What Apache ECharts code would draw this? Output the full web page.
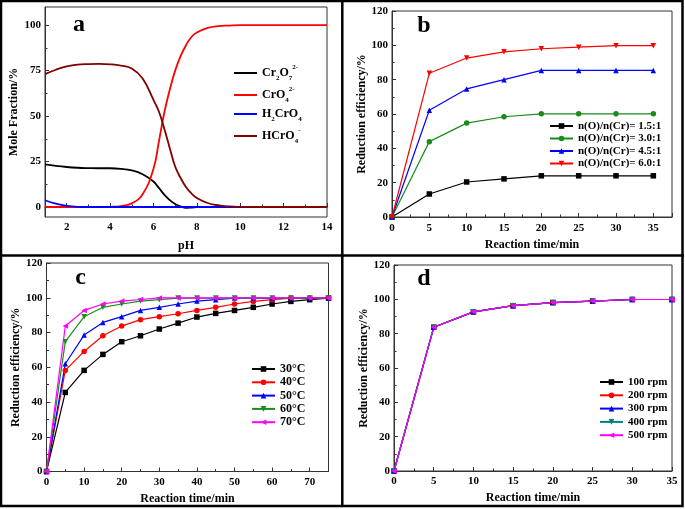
<!DOCTYPE html>
<html><head><meta charset="utf-8">
<script src="https://cdn.jsdelivr.net/npm/echarts@6/dist/echarts.min.js"></script>
<style>html,body{margin:0;padding:0;background:#fff}#c{width:685px;height:509px}</style>
</head><body><div id="c"></div>
<script>
// ---------- Panel a: species distribution vs pH ----------
const phValues = [1, 1.5, 2, 2.5, 3, 3.5, 4, 4.5, 5, 5.5, 6, 6.25, 6.5, 6.75, 7, 7.25, 7.5, 7.75, 8, 8.5, 9, 9.5, 10, 11, 12, 13, 14];
const cr2o7  = [23.4, 22.6, 22.0, 21.6, 21.4, 21.3, 21.3, 21.0, 20.1, 18.0, 14.0, 10.5, 6.8, 3.8, 1.6, 0.3, -0.4, -0.3, -0.1, 0, 0, 0, 0, 0, 0, 0, 0];
const cro4   = [0, 0, 0, 0, 0, 0, 0.1, 0.5, 2.0, 7.0, 21.0, 36.0, 52.0, 64.5, 75.0, 83.0, 89.0, 93.5, 96.0, 98.5, 99.5, 99.8, 100, 100, 100, 100, 100];
const h2cro4 = [3.7, 1.8, 0.6, 0.1, 0, 0, 0, 0, 0, 0, 0, 0, 0, 0, 0, 0, 0, 0, 0, 0, 0, 0, 0, 0, 0, 0, 0];
const hcro4  = [73.1, 75.5, 77.3, 78.3, 78.6, 78.7, 78.5, 77.8, 76.2, 70.7, 58.9, 52.5, 43.0, 32.5, 22.3, 16.0, 11.0, 7.5, 5.0, 2.2, 0.9, 0.3, 0.1, 0, 0, 0, 0];
const aXTicks = [2, 4, 6, 8, 10, 12, 14];
const aXMinor = [3, 5, 7, 9, 11, 13];
const aYTicks = [0, 25, 50, 75, 100];
const aYMinor = [12.5, 37.5, 62.5, 87.5];

// ---------- Panel b: effect of n(O)/n(Cr) ----------
const timeB = [0, 5, 10, 15, 20, 25, 30, 35];
const bRatio15 = [0, 13.4, 20.4, 22.2, 24.0, 24.0, 24.0, 24.0];
const bRatio30 = [0, 43.9, 54.7, 58.4, 60.1, 60.1, 60.1, 60.1];
const bRatio45 = [0, 62.2, 74.6, 80.0, 85.4, 85.4, 85.4, 85.4];
const bRatio60 = [0, 83.7, 92.6, 96.2, 98.0, 98.9, 99.8, 99.8];

// ---------- Panel c: effect of temperature ----------
const timeC = [0, 5, 10, 15, 20, 25, 30, 35, 40, 45, 50, 55, 60, 65, 70, 75];
const c30 = [0, 45.5, 58.2, 67.4, 74.7, 78.1, 82.0, 85.4, 88.9, 91.0, 92.7, 94.5, 96.4, 97.9, 98.9, 99.8];
const c40 = [0, 58.2, 69.1, 78.1, 83.7, 87.4, 89.1, 90.8, 92.7, 94.5, 96.4, 97.9, 98.9, 99.8, 99.8, 99.8];
const c50 = [0, 62.0, 78.5, 85.8, 89.1, 92.7, 94.5, 96.4, 98.1, 98.9, 99.8, 99.8, 99.8, 99.8, 99.8, 99.8];
const c60 = [0, 74.7, 89.1, 94.5, 96.4, 98.1, 98.9, 99.8, 99.8, 99.8, 99.8, 99.8, 99.8, 99.8, 99.8, 99.8];
const c70 = [0, 83.7, 92.7, 96.4, 98.1, 99.0, 99.9, 99.9, 99.9, 99.9, 99.9, 99.9, 99.9, 99.9, 99.9, 99.9];

// ---------- Panel d: effect of stirring speed ----------
const timeD = [0, 5, 10, 15, 20, 25, 30, 35];
const d100 = [0, 83.7, 92.7, 96.3, 98.1, 99.0, 99.9, 99.9];
const d200 = [0, 83.7, 92.7, 96.3, 98.1, 99.0, 99.9, 99.9];
const d300 = [0, 83.7, 92.7, 96.3, 98.1, 99.0, 99.9, 99.9];
const d400 = [0, 83.7, 92.7, 96.3, 98.1, 99.0, 99.9, 99.9];
const d500 = [0, 83.7, 92.7, 96.3, 98.1, 99.0, 99.9, 99.9];

const SERIF = '"Liberation Serif", "Times New Roman", serif';
const zip = (xs, ys) => xs.map((x, i) => [x, ys[i]]);

const labelStyle = {color: '#000', fontFamily: SERIF, fontWeight: 'bold', fontSize: 11};
const nameStyle = {color: '#000', fontFamily: SERIF, fontWeight: 'bold', fontSize: 12};
const axLine = {show: true, lineStyle: {color: '#333', width: 1}};
const tickStyle = {color: '#333', width: 1};

function mainAxis(o) {
  return Object.assign({
    type: 'value',
    axisLine: axLine,
    axisTick: {inside: true, length: 4, lineStyle: tickStyle},
    minorTick: {show: true, splitNumber: 2, length: 2.5, lineStyle: tickStyle},
    splitLine: {show: false},
    minorSplitLine: {show: false},
    axisLabel: Object.assign({margin: 5}, labelStyle),
    nameLocation: 'middle',
    nameTextStyle: nameStyle
  }, o);
}

const xAxes = [
  mainAxis({gridIndex: 0, min: 1, max: 14, name: 'pH', nameGap: 23,
    axisTick: {inside: true, length: 4, lineStyle: tickStyle, customValues: aXTicks},
    axisLabel: Object.assign({margin: 5, customValues: aXTicks}, labelStyle),
    minorTick: {show: false}}),
  mainAxis({gridIndex: 1, min: 0, max: 37.5, interval: 5, name: 'Reaction time/min', nameGap: 22,
    axisLabel: Object.assign({margin: 6, showMaxLabel: false}, labelStyle)}),
  mainAxis({gridIndex: 2, min: 0, max: 75, interval: 10, name: 'Reaction time/min', nameGap: 21,
    axisLabel: Object.assign({margin: 5, showMaxLabel: false}, labelStyle)}),
  mainAxis({gridIndex: 3, min: 0, max: 35, interval: 5, name: 'Reaction time/min', nameGap: 21}),
  {type: 'value', gridIndex: 0, position: 'bottom', min: 1, max: 14,
    axisLine: {show: false}, axisLabel: {show: false}, splitLine: {show: false},
    axisTick: {inside: true, length: 2.5, lineStyle: tickStyle, customValues: aXMinor}}
];
const yAxes = [
  mainAxis({gridIndex: 0, min: -5.5, max: 110, name: 'Mole Fraction/%', nameGap: 25,
    axisTick: {inside: true, length: 4, lineStyle: tickStyle, customValues: aYTicks},
    axisLabel: Object.assign({margin: 4, customValues: aYTicks}, labelStyle),
    minorTick: {show: false}}),
  mainAxis({gridIndex: 1, min: 0, max: 120, interval: 20, name: 'Reduction efficiency/%', nameGap: 22,
    axisLabel: Object.assign({margin: 4}, labelStyle)}),
  mainAxis({gridIndex: 2, min: 0, max: 120, interval: 20, name: 'Reduction efficiency/%', nameGap: 24,
    axisLabel: Object.assign({margin: 4}, labelStyle)}),
  mainAxis({gridIndex: 3, min: 0, max: 120, interval: 20, name: 'Reduction efficiency/%', nameGap: 23,
    axisLabel: Object.assign({margin: 4}, labelStyle)}),
  {type: 'value', gridIndex: 0, position: 'left', min: -5.5, max: 110,
    axisLine: {show: false}, axisLabel: {show: false}, splitLine: {show: false},
    axisTick: {inside: true, length: 2.5, lineStyle: tickStyle, customValues: aYMinor}}
];

function aLine(name, ys, color) {
  return {name, type: 'line', xAxisIndex: 0, yAxisIndex: 0, data: zip(phValues, ys),
    symbol: 'none', smooth: 0.45, color, lineStyle: {width: 1.8, color}, itemStyle: {color}};
}
function mLine(name, xi, xs, ys, color, symbol, rot) {
  return {name, type: 'line', xAxisIndex: xi, yAxisIndex: xi, data: zip(xs, ys),
    symbol, symbolRotate: rot || 0, symbolSize: 5.5, color, clip: false,
    lineStyle: {width: 1.2, color}, itemStyle: {color}};
}

const series = [
  aLine('Cr2O7', cr2o7, '#000000'),
  aLine('CrO4', cro4, '#ff0000'),
  aLine('H2CrO4', h2cro4, '#0000ff'),
  aLine('HCrO4', hcro4, '#800000'),
  mLine('n(O)/n(Cr)= 1.5:1', 1, timeB, bRatio15, '#000000', 'rect'),
  mLine('n(O)/n(Cr)= 3.0:1', 1, timeB, bRatio30, '#1a8c1a', 'circle'),
  mLine('n(O)/n(Cr)= 4.5:1', 1, timeB, bRatio45, '#0000ff', 'triangle'),
  mLine('n(O)/n(Cr)= 6.0:1', 1, timeB, bRatio60, '#ff0000', 'triangle', 180),
  mLine('30°C', 2, timeC, c30, '#000000', 'rect'),
  mLine('40°C', 2, timeC, c40, '#ff0000', 'circle'),
  mLine('50°C', 2, timeC, c50, '#0000ff', 'triangle'),
  mLine('60°C', 2, timeC, c60, '#1a8c1a', 'triangle', 180),
  mLine('70°C', 2, timeC, c70, '#ff00ff', 'triangle', 90),
  mLine('100 rpm', 3, timeD, d100, '#000000', 'rect'),
  mLine('200 rpm', 3, timeD, d200, '#ff0000', 'circle'),
  mLine('300 rpm', 3, timeD, d300, '#0000ff', 'triangle'),
  mLine('400 rpm', 3, timeD, d400, '#008080', 'triangle', 180),
  mLine('500 rpm', 3, timeD, d500, '#ff00ff', 'triangle', 90)
];

const richA = {
  'Cr2O7': '{n|Cr}{b|2}{n|O}{b|7}{p|2-}',
  'CrO4': '{n|CrO}{b|4}{p|2-}',
  'H2CrO4': '{n|H}{b|2}{n|CrO}{b|4}',
  'HCrO4': '{n|HCrO}{b|4}{p|-}'
};
const legText = (lh) => ({color: '#000', fontFamily: SERIF, fontWeight: 'bold', fontSize: 11, lineHeight: lh});

const legends = [
  {orient: 'vertical', left: 229, top: 59, itemWidth: 23, itemHeight: 2, itemGap: 4, icon: 'rect',
   data: ['Cr2O7', 'CrO4', 'H2CrO4', 'HCrO4'],
   formatter: n => richA[n],
   textStyle: {color: '#000', fontFamily: SERIF, fontWeight: 'bold', fontSize: 12,
     rich: {
       n: {fontFamily: SERIF, fontWeight: 'bold', fontSize: 12, lineHeight: 18, color: '#000'},
       b: {fontFamily: SERIF, fontWeight: 'bold', fontSize: 7, lineHeight: 9, verticalAlign: 'bottom', color: '#000'},
       p: {fontFamily: SERIF, fontWeight: 'bold', fontSize: 7, lineHeight: 9, verticalAlign: 'top', color: '#000'}
     }}},
  {orient: 'vertical', left: 544, top: 115, itemWidth: 23, itemHeight: 7, itemGap: 0.5,
   data: ['n(O)/n(Cr)= 1.5:1', 'n(O)/n(Cr)= 3.0:1', 'n(O)/n(Cr)= 4.5:1', 'n(O)/n(Cr)= 6.0:1'],
   textStyle: legText(12)},
  {orient: 'vertical', left: 246, top: 357.5, itemWidth: 23, itemHeight: 7, itemGap: 0.3,
   data: ['30°C', '40°C', '50°C', '60°C', '70°C'], textStyle: Object.assign(legText(13), {fontSize: 12})},
  {orient: 'vertical', left: 594, top: 370.5, itemWidth: 23, itemHeight: 7, itemGap: 0.3,
   data: ['100 rpm', '200 rpm', '300 rpm', '400 rpm', '500 rpm'], textStyle: legText(13)}
];

const gridBase = {show: true, borderColor: '#333', borderWidth: 1, backgroundColor: 'transparent'};
const grids = [
  Object.assign({left: 45, top: 7, width: 282, height: 210}, gridBase),
  Object.assign({left: 392, top: 11, width: 280, height: 206}, gridBase),
  Object.assign({left: 46.5, top: 263, width: 282, height: 208.5}, gridBase),
  Object.assign({left: 394, top: 265, width: 278, height: 206}, gridBase)
];

const panelFont = 'bold 24px ' + SERIF;
const graphic = [
  {type: 'rect', shape: {x: 1, y: 1, width: 681.5, height: 505}, style: {fill: 'none', stroke: '#000', lineWidth: 2.5}, silent: true},
  {type: 'line', shape: {x1: 342.3, y1: 0, x2: 342.3, y2: 507}, style: {stroke: '#000', lineWidth: 2.5}, silent: true},
  {type: 'line', shape: {x1: 0, y1: 255.5, x2: 684, y2: 255.5}, style: {stroke: '#000', lineWidth: 2.5}, silent: true},
  {type: 'text', x: 79, y: 25, style: {text: 'a', font: panelFont, fill: '#000', textAlign: 'center', textVerticalAlign: 'middle'}},
  {type: 'text', x: 424, y: 26, style: {text: 'b', font: panelFont, fill: '#000', textAlign: 'center', textVerticalAlign: 'middle'}},
  {type: 'text', x: 80.5, y: 278, style: {text: 'c', font: panelFont, fill: '#000', textAlign: 'center', textVerticalAlign: 'middle'}},
  {type: 'text', x: 424, y: 279, style: {text: 'd', font: panelFont, fill: '#000', textAlign: 'center', textVerticalAlign: 'middle'}}
];

const chart = echarts.init(document.getElementById('c'), null, {renderer: 'canvas'});
chart.setOption({
  animation: false,
  backgroundColor: '#fff',
  grid: grids,
  xAxis: xAxes,
  yAxis: yAxes,
  legend: legends,
  series,
  graphic
});
</script></body></html>
